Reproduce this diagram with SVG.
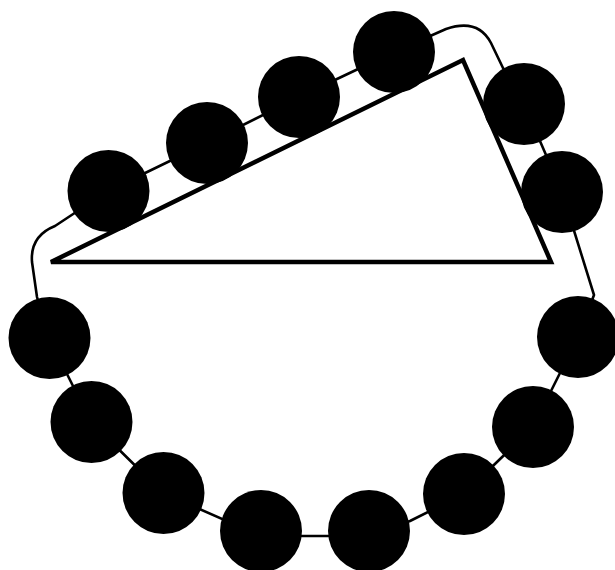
<svg xmlns="http://www.w3.org/2000/svg" width="615" height="570" viewBox="0 0 615 570">
<style>
.bead{fill:#000}
.chain{fill:none;stroke:#000;stroke-width:2.6;stroke-linejoin:round}
.tri{fill:none;stroke:#000;stroke-width:4.5;stroke-linejoin:miter}
</style>
<rect width="615" height="570" fill="#fff"/>
<g id="connectors">
<path class="chain" d="M49,338 L37,297 L32,262 Q30,236 55,226 L108,191 L207,143 L299,97 L394,52 L446,29 Q478,18 491,43 L503,68 L524,104 L562,192 L594,295 L578,337 L533,427 L464,494 L410,521 L369,536 L261,536 L163,493 L91,422 L49,338"/>
</g>
<g id="triangle">
<polygon class="tri" points="51,262 463,60 551,262"/>
</g>
<g id="bead1"><circle class="bead" cx="108.5" cy="191" r="41"/></g>
<g id="bead2"><circle class="bead" cx="207" cy="143" r="41"/></g>
<g id="bead3"><circle class="bead" cx="299" cy="97" r="41"/></g>
<g id="bead4"><circle class="bead" cx="394" cy="52" r="41"/></g>
<g id="bead5"><circle class="bead" cx="524" cy="104" r="41"/></g>
<g id="bead6"><circle class="bead" cx="562" cy="192" r="41"/></g>
<g id="bead7"><circle class="bead" cx="578" cy="337" r="41"/></g>
<g id="bead8"><circle class="bead" cx="533" cy="427" r="41"/></g>
<g id="bead9"><circle class="bead" cx="464" cy="494" r="41"/></g>
<g id="bead10"><circle class="bead" cx="369" cy="531" r="41"/></g>
<g id="bead11"><circle class="bead" cx="261" cy="531" r="41"/></g>
<g id="bead12"><circle class="bead" cx="163.5" cy="493" r="41"/></g>
<g id="bead13"><circle class="bead" cx="91.5" cy="422" r="41"/></g>
<g id="bead14"><circle class="bead" cx="49.5" cy="338" r="41"/></g>
</svg>
